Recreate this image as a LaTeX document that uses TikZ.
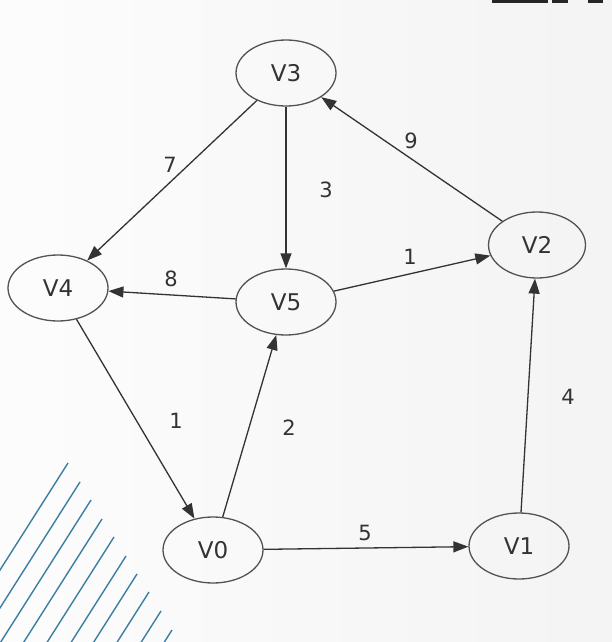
\documentclass[tikz,border=0pt]{standalone}
\usepackage{fontspec}
\setmainfont{DejaVu Sans}
\usetikzlibrary{shapes.geometric,arrows.meta}
\definecolor{ink}{HTML}{333333}
\definecolor{stripe}{HTML}{3C7EA3}
\tikzset{
  vertex/.style={ellipse, draw=ink!85, line width=1.3pt, minimum width=100pt,
    minimum height=66pt, inner sep=0pt, text=ink, font=\fontsize{23}{23}\selectfont},
  edge/.style={draw=ink, line width=1.3pt, -{Triangle[length=15pt,width=11pt]}},
  weight/.style={text=ink, font=\fontsize{21}{21}\selectfont},
  stripeline/.style={draw=stripe, line width=1.4pt}
}
\begin{document}
\begin{tikzpicture}[x=1pt,y=-1pt]
  % page and background
  \useasboundingbox (0,0) rectangle (612,642);
  \shade[left color=gray!2, right color=gray!9] (0,0) rectangle (612,642);
  % decorative stripes
  \begin{scope}
    \clip (0,0) rectangle (612,642);
    \foreach \x/\y in {68/463,80/482,91/500,102/519,114/537,126/556,137/574,149/592,161/611,172/630}
      \draw[stripeline] (\x,\y) -- ++(-136,214);
  \end{scope}
  % top bar fragments
  \fill[black!85] (492,0) rectangle (548,3);
  \fill[black!85] (552,0) rectangle (568,3);
  \fill[black!85] (588,0) rectangle (603,3);
  % vertices
  \node[vertex] (v3) at (286,73) {V3};
  \node[vertex] (v4) at (58,288) {V4};
  \node[vertex] (v5) at (286,302) {V5};
  \node[vertex, minimum width=97pt] (v2) at (537,245) {V2};
  \node[vertex] (v0) at (213,550) {V0};
  \node[vertex] (v1) at (519,546) {V1};
  % weighted edges
  \draw[edge] (v3) -- (v4);
  \draw[edge] (v3) -- (v5);
  \draw[edge] (v2) -- (v3);
  \draw[edge] (v5) -- (v2);
  \draw[edge] (v5) -- (v4);
  \draw[edge] (v4) -- (v0);
  \draw[edge] (v0) -- (v5);
  \draw[edge] (v0) -- (v1);
  \draw[edge] (v1) -- (v2);
  % weights
  \node[weight] (w34) at (170,165) {7};
  \node[weight] (w35) at (326,190) {3};
  \node[weight] (w23) at (411,141) {9};
  \node[weight] (w52) at (410,257) {1};
  \node[weight] (w54) at (171,279) {8};
  \node[weight] (w40) at (176,421) {1};
  \node[weight] (w05) at (289,428) {2};
  \node[weight] (w12) at (568,397) {4};
  \node[weight] (w01) at (365,533) {5};
\end{tikzpicture}
\end{document}
